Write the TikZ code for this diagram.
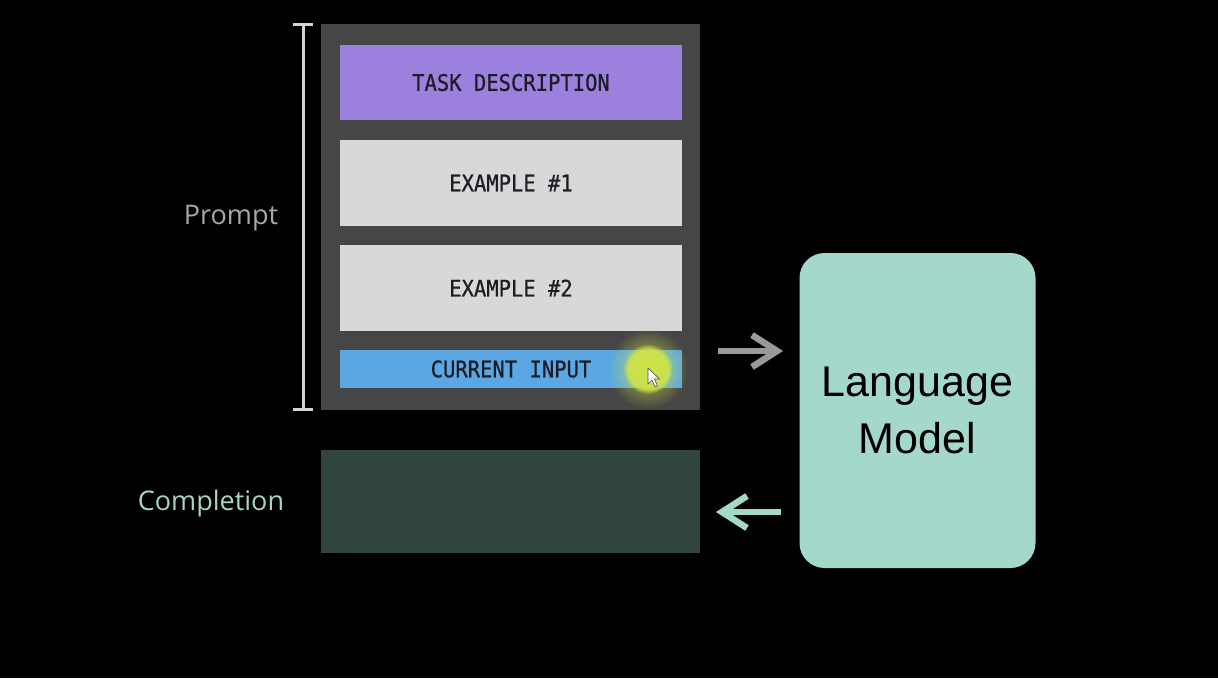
\documentclass[tikz,border=0pt]{standalone}
\usepackage{fontspec}
\setmainfont{Liberation Sans}
\newfontfamily\labelfont{Open Sans}
\newfontfamily\monofont[FakeStretch=0.9,FakeBold=0.6]{DejaVu Sans Mono}
\usetikzlibrary{fadings}
\definecolor{panelgray}{HTML}{464646}
\definecolor{taskpurple}{HTML}{9C80DD}
\definecolor{exgray}{HTML}{D8D8D8}
\definecolor{inblue}{HTML}{5AA7E3}
\definecolor{compdark}{HTML}{2F453E}
\definecolor{lmteal}{HTML}{A4D8CA}
\definecolor{arrgray}{HTML}{9A9A9A}
\definecolor{prompttxt}{HTML}{A8A8A8}
\definecolor{comptxt}{HTML}{A6D5C8}
\definecolor{brackgray}{HTML}{D4D4D4}
\definecolor{glowcol}{HTML}{D4E642}
\definecolor{blocktxt}{HTML}{1C1C24}
\tikzfading[name=softglow, inner color=transparent!0, outer color=transparent!100]
\tikzset{
  blockbox/.style={rectangle, inner sep=0pt, minimum width=342pt, text=blocktxt,
    font=\monofont\fontsize{22.8}{26}\selectfont},
  sidelabel/.style={font=\labelfont\fontsize{27}{32}\selectfont, inner sep=0pt},
  bigarrow/.style={line width=6.5pt, line cap=butt, line join=miter},
}
\begin{document}
\begin{tikzpicture}[x=1pt,y=-1pt]
\fill[black] (0,0) rectangle (1218,678);
\useasboundingbox (0,0) rectangle (1218,678);
% prompt panel
\node[rectangle, fill=panelgray, inner sep=0pt, minimum width=379pt, minimum height=386pt] (panel) at (510.5,217) {};
\node[blockbox, fill=taskpurple, minimum height=75pt] (task) at (511,82.5) {TASK DESCRIPTION};
\node[blockbox, fill=exgray, minimum height=86pt] (ex1) at (511,183) {EXAMPLE \#1};
\node[blockbox, fill=exgray, minimum height=86pt] (ex2) at (511,288) {EXAMPLE \#2};
\node[blockbox, fill=inblue, minimum height=38pt] (cur) at (511,369) {CURRENT INPUT};
% cursor highlight
\fill[glowcol, opacity=0.8, path fading=softglow] (648,369) circle (40);
\fill[glowcol, opacity=0.85, path fading=circle with fuzzy edge 20 percent] (648,369) circle (25);
\fill[white, draw=black!70, line width=0.6pt] (648,368) -- (648,384) -- (652,380) -- (655,387) -- (657.5,386) -- (654.5,379) -- (659.5,379) -- cycle;
% completion box
\node[rectangle, fill=compdark, inner sep=0pt, minimum width=379pt, minimum height=103pt] (comp) at (510.5,501.5) {};
% language model
\node[rectangle, rounded corners=25pt, fill=lmteal, inner sep=0pt, minimum width=236pt, minimum height=315pt,
  align=center, font=\fontsize{43}{57}\selectfont, text=black] (lm) at (917.5,410.5) {Language\\Model};
% prompt bracket
\coordinate (btop) at (303,24);
\coordinate (bbot) at (303,409);
\draw[brackgray, line width=3pt] (btop) -- (bbot);
\draw[brackgray, line width=3pt] ([xshift=-10pt]btop) -- ([xshift=10pt]btop);
\draw[brackgray, line width=3pt] ([xshift=-10pt]bbot) -- ([xshift=10pt]bbot);
% labels
\node[sidelabel, text=prompttxt] (plabel) at (231,218) {Prompt};
\node[sidelabel, text=comptxt] (clabel) at (211,503) {Completion};
% arrows
\coordinate (a1s) at (718,351);
\coordinate (a1e) at (777,351);
\coordinate (a2s) at (781,512);
\coordinate (a2e) at (722,512);
\draw[bigarrow, arrgray] (a1s) -- (a1e);
\draw[bigarrow, arrgray] ([shift={(-25,-16)}]a1e) -- (a1e) -- ([shift={(-25,16)}]a1e);
\draw[bigarrow, lmteal] (a2s) -- (a2e);
\draw[bigarrow, lmteal] ([shift={(25,-16)}]a2e) -- (a2e) -- ([shift={(25,16)}]a2e);
\end{tikzpicture}
\end{document}
